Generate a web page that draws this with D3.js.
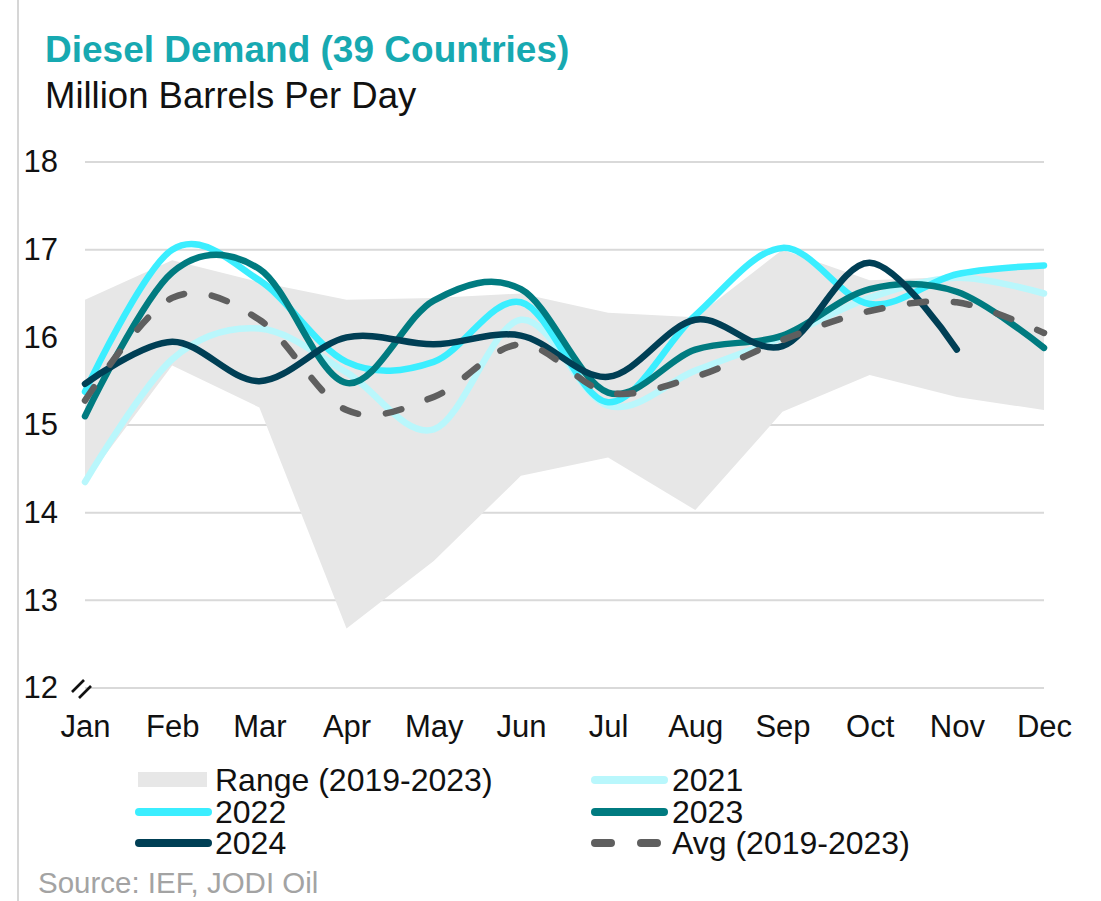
<!DOCTYPE html>
<html>
<head>
<meta charset="utf-8">
<script src="https://cdn.jsdelivr.net/npm/d3@7"></script>
<style>
  body { margin: 0; background: #fff; }
  svg { display: block; font-family: Arial, "Liberation Sans", sans-serif; }
</style>
</head>
<body>
<svg width="1101" height="901"></svg>
<script>
// data (million barrels per day)
const months = ["Jan","Feb","Mar","Apr","May","Jun","Jul","Aug","Sep","Oct","Nov","Dec"];
const rangeHigh = [16.43, 16.88, 16.63, 16.43, 16.45, 16.5, 16.28, 16.23, 17.0, 16.65, 16.69, 16.83];
const rangeLow  = [14.35, 15.68, 15.2, 12.68, 13.45, 14.42, 14.63, 14.03, 15.15, 15.57, 15.32, 15.17];
const y2021 = [14.35, 15.75, 16.1, 15.6, 14.95, 16.2, 15.22, 15.62, 16.0, 16.45, 16.68, 16.5];
const y2022 = [15.38, 17.0, 16.65, 15.72, 15.72, 16.4, 15.26, 16.25, 17.02, 16.38, 16.72, 16.82];
const y2023 = [15.1, 16.74, 16.78, 15.48, 16.42, 16.55, 15.37, 15.86, 16.02, 16.55, 16.52, 15.88];
const y2024 = [15.47, 15.95, 15.5, 16.0, 15.92, 16.02, 15.55, 16.2, 15.9, 16.85, 15.86];
const avg   = [15.28, 16.45, 16.2, 15.17, 15.32, 15.92, 15.37, 15.55, 15.97, 16.3, 16.4, 16.05];
const yTicks = [12, 13, 14, 15, 16, 17, 18];

const series = [
  {name: "2021", values: y2021, color: "#b9f7fc", dash: null},
  {name: "2022", values: y2022, color: "#3beeff", dash: null},
  {name: "2023", values: y2023, color: "#007b80", dash: null},
  {name: "2024", values: y2024, color: "#003f55", dash: null},
  {name: "Avg (2019-2023)", values: avg, color: "#5f5f5f", dash: "16,28"}
];

let svg = d3.select("svg");

let x = d3.scalePoint().domain(months).range([85, 1044]);
let y = d3.scaleLinear().domain([12, 18]).range([688, 162]);

// thin frame line on the left
svg.append("line")
  .attr("x1", 18).attr("x2", 18).attr("y1", 0).attr("y2", 901)
  .attr("stroke", "#c8c8c8").attr("stroke-width", 1.5);

// titles
svg.append("text")
  .attr("x", 45).attr("y", 62)
  .attr("fill", "#17a9b1")
  .style("font-size", "37px").style("font-weight", "bold")
  .text("Diesel Demand (39 Countries)");
svg.append("text")
  .attr("x", 45).attr("y", 108)
  .attr("fill", "#111")
  .style("font-size", "36.5px")
  .text("Million Barrels Per Day");

// gridlines
svg.append("g")
  .selectAll("line")
  .data(yTicks)
  .enter().append("line")
  .attr("x1", 85).attr("x2", 1044)
  .attr("y1", d => y(d)).attr("y2", d => y(d))
  .attr("stroke", "#d9d9d9").attr("stroke-width", 2);

// y axis labels
let yAxis = svg.append("g")
  .attr("transform", "translate(58,0)")
  .call(d3.axisLeft(y).tickValues(yTicks).tickFormat(d3.format("d")).tickSize(0).tickPadding(0));
yAxis.select(".domain").remove();
yAxis.selectAll("text")
  .attr("fill", "#111")
  .style("font-size", "31px")
  .style("font-family", "Arial, 'Liberation Sans', sans-serif");

// axis break mark
let brk = svg.append("g").attr("stroke", "#111").attr("stroke-width", 2.6);
brk.append("line").attr("x1", 72).attr("y1", 692).attr("x2", 84).attr("y2", 680);
brk.append("line").attr("x1", 79).attr("y1", 698).attr("x2", 91).attr("y2", 686);

// x axis labels
let xAxis = svg.append("g")
  .attr("transform", "translate(0,688)")
  .call(d3.axisBottom(x).tickSize(0).tickPadding(27));
xAxis.select(".domain").remove();
xAxis.selectAll("text")
  .attr("fill", "#111")
  .style("font-size", "31px")
  .style("font-family", "Arial, 'Liberation Sans', sans-serif");

// range band
let band = d3.area()
  .x((d, i) => x(months[i]))
  .y0(d => y(d[0]))
  .y1(d => y(d[1]));
svg.append("path")
  .datum(rangeLow.map((v, i) => [v, rangeHigh[i]]))
  .attr("fill", "#e7e7e7")
  .attr("d", band);

// smoothed lines
let line = d3.line()
  .x((d, i) => x(months[i]))
  .y(d => y(d))
  .curve(d3.curveCatmullRom.alpha(0));

svg.append("g")
  .selectAll("path")
  .data(series)
  .enter().append("path")
  .attr("d", d => line(d.values))
  .attr("fill", "none")
  .attr("stroke", d => d.color)
  .attr("stroke-width", 6.5)
  .attr("stroke-linecap", "round")
  .attr("stroke-dasharray", d => d.dash);

// legend
const legendItems = [
  {label: "Range (2019-2023)", type: "area", color: "#e7e7e7", col: 0, row: 0},
  {label: "2021", type: "line", color: "#b9f7fc", col: 1, row: 0},
  {label: "2022", type: "line", color: "#3beeff", col: 0, row: 1},
  {label: "2023", type: "line", color: "#007b80", col: 1, row: 1},
  {label: "2024", type: "line", color: "#003f55", col: 0, row: 2},
  {label: "Avg (2019-2023)", type: "dash", color: "#5f5f5f", col: 1, row: 2}
];
const colX = [137, 593];
const rowY = [780, 812, 843];

let leg = svg.append("g")
  .selectAll("g")
  .data(legendItems)
  .enter().append("g")
  .attr("transform", d => `translate(${colX[d.col]},${rowY[d.row]})`);

leg.filter(d => d.type === "area").append("rect")
  .attr("x", 1).attr("y", -8).attr("width", 69).attr("height", 15)
  .attr("fill", d => d.color);

leg.filter(d => d.type !== "area").append("line")
  .attr("x1", 2).attr("x2", 71).attr("y1", 0).attr("y2", 0)
  .attr("stroke", d => d.color)
  .attr("stroke-width", 8)
  .attr("stroke-linecap", "round")
  .attr("stroke-dasharray", d => d.type === "dash" ? "16,30" : null);

leg.append("text")
  .attr("x", d => d.col === 0 ? 78 : 79)
  .attr("y", 11)
  .attr("fill", "#111")
  .style("font-size", "32px")
  .text(d => d.label);

// source
svg.append("text")
  .attr("x", 38).attr("y", 893)
  .attr("fill", "#a3a3a3")
  .style("font-size", "29.5px")
  .text("Source: IEF, JODI Oil");
</script>
</body>
</html>
